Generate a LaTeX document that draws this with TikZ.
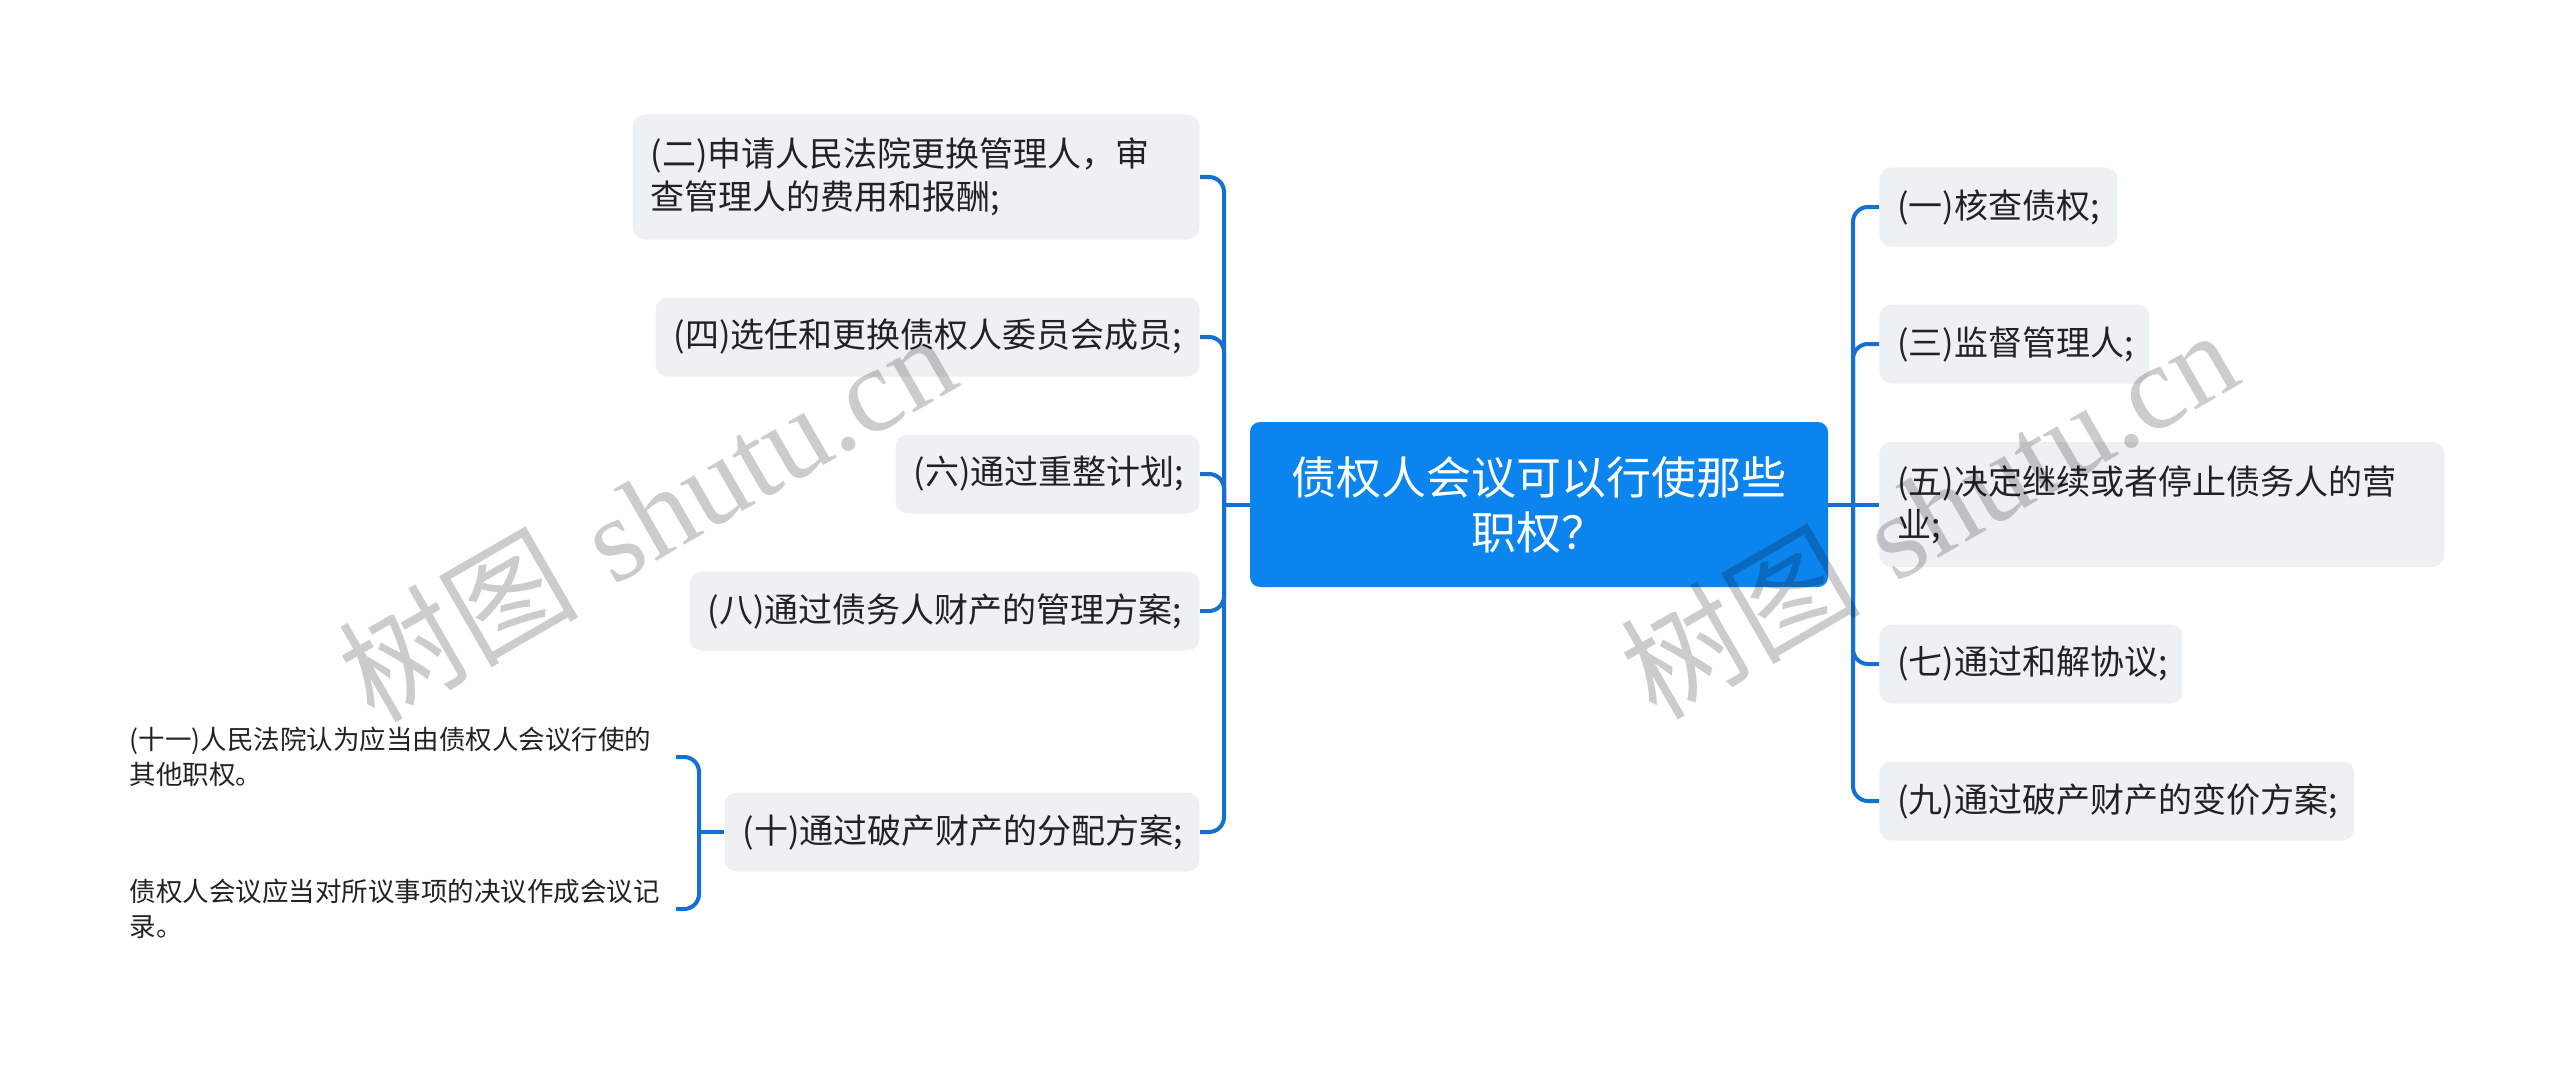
\documentclass[tikz,border=0pt]{standalone}
\usepackage{fontspec}
\newfontfamily\cjkfont{Noto Sans CJK SC}
\newfontfamily\wmserif{Liberation Serif}
\usepackage{xcolor}
\usepackage{tikz}
\usetikzlibrary{arrows,calc,positioning}

\definecolor{rootblue}{HTML}{0B84EE}
\definecolor{linkblue}{HTML}{1570D4}
\definecolor{boxgray}{HTML}{EEF1F4}
\definecolor{inkgray}{HTML}{222222}

\tikzset{
  root/.style={rectangle, rounded corners=5pt, fill=rootblue, text=white, align=center,
    minimum width=289pt, minimum height=82.5pt, inner sep=0pt,
    font=\cjkfont\fontsize{22.5pt}{27.5pt}\selectfont},
  topic/.style={rectangle, rounded corners=6pt, fill=boxgray, text=inkgray, align=left,
    inner xsep=9pt, inner ysep=0pt, minimum height=39.5pt,
    font=\cjkfont\fontsize{17pt}{21.5pt}\selectfont},
  twoline/.style={topic, minimum height=62.5pt},
  leaf/.style={rectangle, text=inkgray, align=left, text width=269pt,
    inner xsep=4pt, inner ysep=0pt,
    font=\cjkfont\fontsize{13.25pt}{17.5pt}\selectfont},
  link/.style={draw=linkblue, line width=2pt, rounded corners=7.5pt},
  stamp/.style={text=black, text opacity=0.2, inner sep=0pt,
    font=\fontsize{60pt}{60pt}\selectfont}
}

\begin{document}
\begin{tikzpicture}[x=0.5pt,y=-0.5pt]
\fill[white] (0,0) rectangle (2560,1070);
\node[root] (root) at (1539,504.5) {债权人会议可以行使那些\\职权？};
% left side
\node[twoline, text width=265.5pt, anchor=east] (two) at (1200,177) {(二)申请人民法院更换管理人，审\\查管理人的费用和报酬;};
\node[topic, text width=254pt, anchor=east] (four) at (1200,337) {(四)选任和更换债权人委员会成员;};
\node[topic, text width=134pt, anchor=east] (six) at (1200,474) {(六)通过重整计划;};
\node[topic, text width=237pt, anchor=east] (eight) at (1200,611) {(八)通过债务人财产的管理方案;};
\node[topic, text width=219.5pt, anchor=east] (ten) at (1200,832) {(十)通过破产财产的分配方案;};
% right side
\node[topic, text width=101pt, anchor=west] (one) at (1879,207) {(一)核查债权;};
\node[topic, text width=117pt, anchor=west] (three) at (1879,344) {(三)监督管理人;};
\node[twoline, text width=264.5pt, anchor=west] (five) at (1879,504.5) {(五)决定继续或者停止债务人的营\\业;};
\node[topic, text width=133.5pt, anchor=west] (seven) at (1879,664) {(七)通过和解协议;};
\node[topic, text width=219.5pt, anchor=west] (nine) at (1879,801) {(九)通过破产财产的变价方案;};
% under (十)
\node[leaf, anchor=east] (eleven) at (676,757) {(十一)人民法院认为应当由债权人会议行使的\\其他职权。};
\node[leaf, anchor=east] (record) at (676,909) {债权人会议应当对所议事项的决议作成会议记\\录。};

\coordinate (lj) at (1224,504.5);
\coordinate (rj) at (1853,504.5);
\coordinate (tj) at (699,832);
\draw[link] (root.west) to (lj);
\draw[link] (lj) |- (two.east);
\draw[link] (lj) |- (four.east);
\draw[link] (lj) |- (six.east);
\draw[link] (lj) |- (eight.east);
\draw[link] (lj) |- (ten.east);
\draw[link] (root.east) to (five.west);
\draw[link] (rj) |- (one.west);
\draw[link] (rj) |- (three.west);
\draw[link] (rj) |- (seven.west);
\draw[link] (rj) |- (nine.west);
\draw[link] (ten.west) to (tj);
\draw[link] (tj) |- (eleven.east);
\draw[link] (tj) |- (record.east);

% watermark
\node[stamp, rotate=30] (wmleft) at (646,515) {{\cjkfont 树图} {\wmserif shutu.cn}};
\node[stamp, rotate=30] (wmright) at (1928,512) {{\cjkfont 树图} {\wmserif shutu.cn}};
\end{tikzpicture}
\end{document}
